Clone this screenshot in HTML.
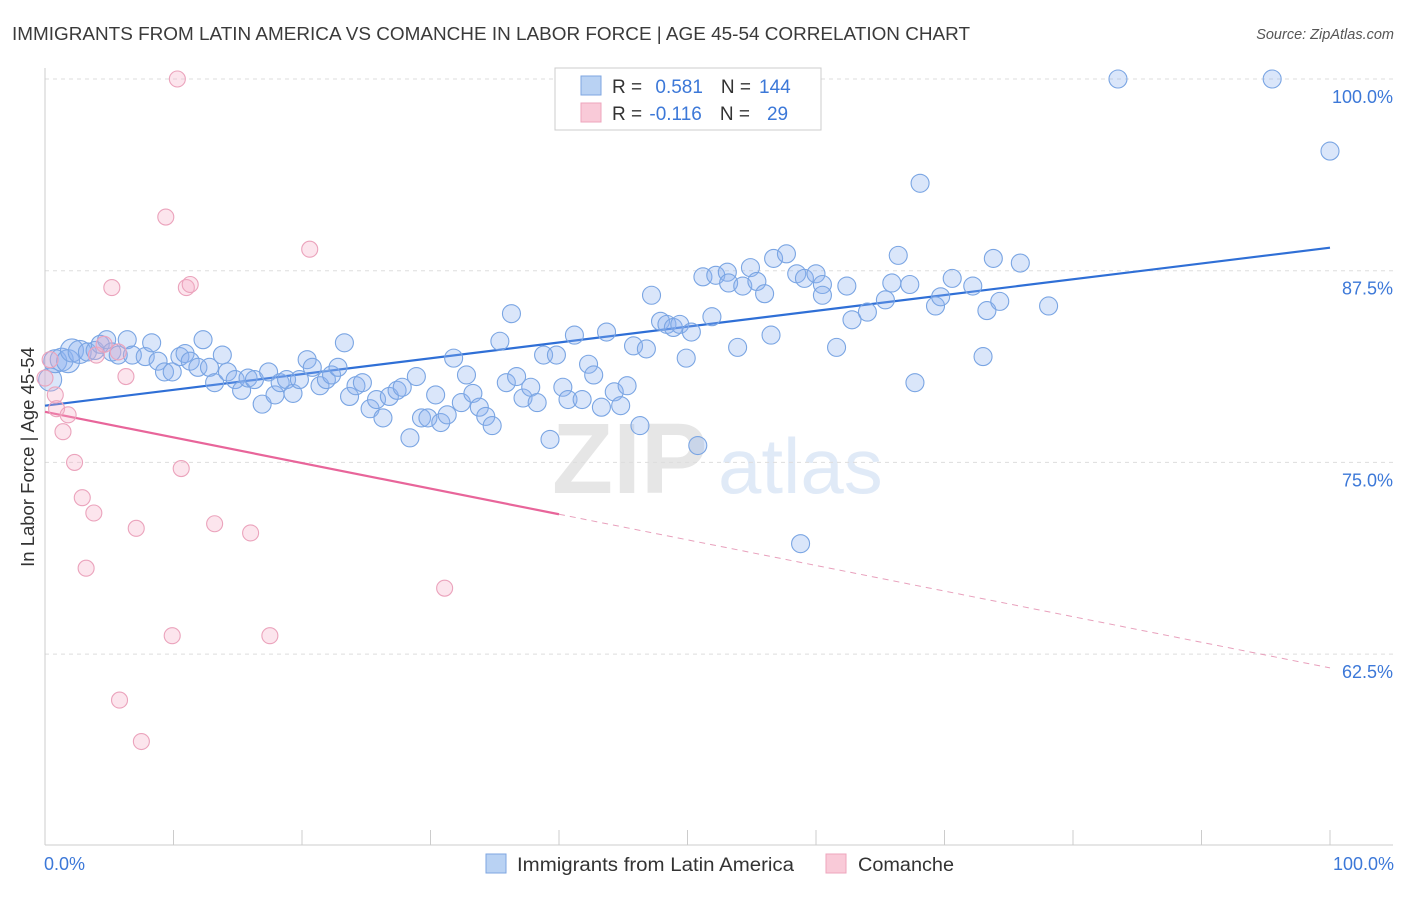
<!DOCTYPE html>
<html><head><meta charset="utf-8"><style>
body{margin:0;background:#fff;font-family:"Liberation Sans",sans-serif}
svg text{font-family:"Liberation Sans",sans-serif}
</style></head><body>
<svg id="chart" width="1406" height="892" viewBox="0 0 1406 892">
<text x="12" y="40" font-size="18.5" textLength="958" lengthAdjust="spacingAndGlyphs" fill="#3a3a3a">IMMIGRANTS FROM LATIN AMERICA VS COMANCHE IN LABOR FORCE | AGE 45-54 CORRELATION CHART</text>
<text x="1394" y="39" font-size="14.5" fill="#555" text-anchor="end" font-style="italic">Source: ZipAtlas.com</text>
<g opacity="0.18">
<text x="552" y="493" font-size="100" font-family="Liberation Serif" fill="#777" font-weight="bold">ZIP</text>
<text x="718" y="493" font-size="78" fill="#5b8fd6">atlas</text>
</g>
<g id="grid"></g>
<g id="axes"></g>
<g id="lines"></g>
<g id="points"></g>
<g>
<rect x="555" y="68" width="266" height="62" fill="#fff" stroke="#ccc"/>
<rect x="581" y="76" width="20" height="19" fill="#b9d2f3" stroke="#7ea6e0"/>
<rect x="581" y="103" width="20" height="19" fill="#f9cad8" stroke="#eea5bd"/>
<text x="612" y="93" font-size="19" fill="#333">R = <tspan fill="#3c78d8" dx="8">0.581</tspan><tspan dx="18">N =</tspan><tspan fill="#3c78d8" dx="8">144</tspan></text>
<text x="612" y="120" font-size="19" fill="#333">R = <tspan fill="#3c78d8" dx="2">-0.116</tspan><tspan dx="18">N =</tspan><tspan fill="#3c78d8" dx="17">29</tspan></text>
</g>
<g>
<rect x="486" y="854" width="20" height="19" fill="#b9d2f3" stroke="#7ea6e0"/>
<text x="517" y="871" font-size="19" textLength="277" lengthAdjust="spacingAndGlyphs" fill="#333">Immigrants from Latin America</text>
<rect x="826" y="854" width="20" height="19" fill="#f9cad8" stroke="#eea5bd"/>
<text x="858" y="871" font-size="19" textLength="96" lengthAdjust="spacingAndGlyphs" fill="#333">Comanche</text>
</g>
<text x="44" y="870" font-size="18" fill="#3c78d8">0.0%</text>
<text x="1394" y="870" font-size="18" fill="#3c78d8" text-anchor="end">100.0%</text>
<text transform="translate(34,457) rotate(-90)" font-size="18.5" fill="#333" text-anchor="middle">In Labor Force | Age 45-54</text>
</svg>
<script>
const yTicks=[100,87.5,75,62.5];
const yTickLabels=["100.0%","87.5%","75.0%","62.5%"];
const blueX=[0.4,0.8,1.3,1.8,2.1,2.7,3.3,3.9,4.3,4.8,5.2,5.7,6.4,6.8,7.8,8.3,8.8,9.3,9.9,10.5,10.9,11.3,11.9,12.3,12.8,13.2,13.8,14.2,14.8,15.3,15.8,16.3,16.9,17.4,17.9,18.3,18.8,19.3,19.8,20.4,20.8,21.4,21.9,22.3,22.8,23.3,23.7,24.2,24.7,25.3,25.8,26.3,26.8,27.4,27.8,28.4,28.9,29.3,29.8,30.4,30.8,31.3,31.8,32.4,32.8,33.3,33.8,34.3,34.8,35.4,35.9,36.3,36.7,37.2,37.8,38.3,38.8,39.3,39.8,40.3,40.7,41.2,41.8,42.3,42.7,43.3,43.7,44.3,44.8,45.3,45.8,46.3,46.8,47.2,47.9,48.4,48.9,49.4,49.9,50.3,50.8,51.2,51.9,52.2,53.1,53.2,53.9,54.3,54.9,55.4,56.0,56.5,56.7,57.7,58.5,59.1,60.0,60.5,60.5,61.6,62.4,62.8,64.0,65.4,65.9,66.4,67.3,67.7,68.1,69.3,69.7,70.6,72.2,73.0,73.3,73.8,74.3,75.9,78.1,58.8,83.5,95.5,100];
const blueY=[80.4,81.6,81.7,81.6,82.3,82.2,82.2,82.3,82.7,83.0,82.2,82.0,83.0,82.0,81.9,82.8,81.6,80.9,80.9,81.9,82.1,81.6,81.2,83.0,81.2,80.2,82.0,80.9,80.4,79.7,80.5,80.4,78.8,80.9,79.4,80.2,80.4,79.5,80.4,81.7,81.2,80.0,80.4,80.7,81.2,82.8,79.3,80.0,80.2,78.5,79.1,77.9,79.3,79.7,79.9,76.6,80.6,77.9,77.9,79.4,77.6,78.1,81.8,78.9,80.7,79.5,78.6,78.0,77.4,82.9,80.2,84.7,80.6,79.2,79.9,78.9,82.0,76.5,82.0,79.9,79.1,83.3,79.1,81.4,80.7,78.6,83.5,79.6,78.7,80.0,82.6,77.4,82.4,85.9,84.2,84.0,83.8,84.0,81.8,83.5,76.1,87.1,84.5,87.2,87.4,86.7,82.5,86.5,87.7,86.8,86.0,83.3,88.3,88.6,87.3,87.0,87.3,86.6,85.9,82.5,86.5,84.3,84.8,85.6,86.7,88.5,86.6,80.2,93.2,85.2,85.8,87.0,86.5,81.9,84.9,88.3,85.5,88.0,85.2,69.7,100,100,95.3];
const pinkX=[0,0.4,0.8,0.9,1.4,1.8,2.3,2.9,3.2,3.8,4.0,4.6,5.2,5.7,5.8,6.3,7.1,7.5,9.4,9.9,10.3,10.6,11.0,11.3,13.2,16.0,17.5,20.6,31.1];
const pinkY=[80.5,81.7,79.4,78.5,77.0,78.1,75.0,72.7,68.1,71.7,82.0,82.7,86.4,82.2,59.5,80.6,70.7,56.8,91.0,63.7,100,74.6,86.4,86.6,71.0,70.4,63.7,88.9,66.8];
const blueTrend=[78.7,89.0];
const pinkTrend=[78.3,61.6];
const pinkSolidEnd=40;

const NS="http://www.w3.org/2000/svg";
const X0=45,X1=1330,Y100=79,PXPER=191.7/12.5;
function sx(v){return X0+(X1-X0)*v/100;}
function sy(v){return Y100+(100-v)*PXPER;}
function mk(tag,attrs,parent){const e=document.createElementNS(NS,tag);for(const k in attrs)e.setAttribute(k,attrs[k]);document.getElementById(parent).appendChild(e);return e;}

yTicks.forEach((t,i)=>{
  const l=mk('line',{x1:45,x2:1393,y1:sy(t),y2:sy(t),stroke:'#ddd','stroke-dasharray':'4,4'},'grid');
  
  
  const tx=mk('text',{x:1393,y:sy(t)+24,'font-size':18,fill:'#3c78d8','text-anchor':'end'},'grid');
  tx.textContent=yTickLabels[i];
  
  
});
let a=mk('line',{x1:45,x2:45,y1:68,y2:845,stroke:'#ccc'},'axes');


a=mk('line',{x1:45,x2:1393,y1:845,y2:845,stroke:'#ccc'},'axes');


for(let i=1;i<=10;i++){
  const t=mk('line',{x1:sx(i*10),x2:sx(i*10),y1:830,y2:845,stroke:'#ccc'},'axes');
  
  
}
let ln=mk('line',{x1:sx(0),y1:sy(blueTrend[0]),x2:sx(100),y2:sy(blueTrend[1]),stroke:'#2f6fd6','stroke-width':2.2},'lines');


const pm=pinkTrend[0]+(pinkTrend[1]-pinkTrend[0])*pinkSolidEnd/100;
ln=mk('line',{x1:sx(0),y1:sy(pinkTrend[0]),x2:sx(pinkSolidEnd),y2:sy(pm),stroke:'#e8659a','stroke-width':2.2},'lines');


ln=mk('line',{x1:sx(pinkSolidEnd),y1:sy(pm),x2:sx(100),y2:sy(pinkTrend[1]),stroke:'#e8a0bc','stroke-width':1,'stroke-dasharray':'6,5'},'lines');



blueX.forEach((x,i)=>{
  const r=(x<3)?11.5:9;
  const c=mk('circle',{cx:sx(x),cy:sy(blueY[i]),r:r,fill:'rgba(140,178,238,0.32)',stroke:'#7aa5e3','stroke-width':1.1},'points');
  
  
});
pinkX.forEach((x,i)=>{
  const c=mk('circle',{cx:sx(x),cy:sy(pinkY[i]),r:8,fill:'rgba(245,175,198,0.32)',stroke:'#eba3bc','stroke-width':1.1},'points');
  
  
});
</script>
</body></html>
